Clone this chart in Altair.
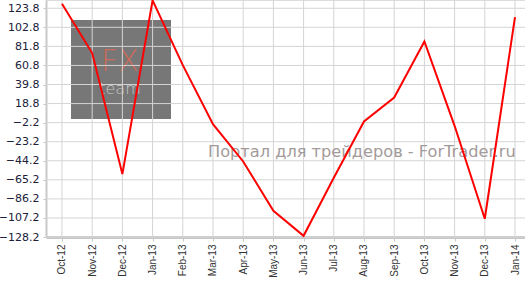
import altair as alt
import pandas as pd

months = ["Oct-12", "Nov-12", "Dec-12", "Jan-13", "Feb-13", "Mar-13", "Apr-13", "May-13",
          "Jun-13", "Jul-13", "Aug-13", "Sep-13", "Oct-13", "Nov-13", "Dec-13", "Jan-14"]
values = [128.8, 74.4, -58.9, 132.5, 61.1, -3.8, -45.0, -99.3,
          -126.9, -63.0, -0.9, 25.5, 87.2, -5.7, -108.1, 114.1]
y_ticks = [123.8, 102.8, 81.8, 60.8, 39.8, 18.8, -2.2, -23.2, -44.2, -65.2, -86.2, -107.2, -128.2]
watermark_text = "Портал для трейдеров - ForTrader.ru"

df = pd.DataFrame({"month": months, "value": values})
df_y = pd.DataFrame({"tick": y_ticks})
df_x = pd.DataFrame({"month": months})

xscale = alt.Scale(type="point", domain=months, padding=0.43, align=0.615)
yscale = alt.Scale(domain=[-128.2, 132.9], nice=False, zero=False)

x_axis = alt.Axis(title=None, labelAngle=-90, labelFont="Liberation Sans", labelFontSize=10,
                  labelColor="#333333", domainColor="#c8c8c8", domainWidth=3,
                  tickColor="#c8c8c8", tickSize=4, labelPadding=3, grid=False)
y_axis = alt.Axis(title=None, values=y_ticks, format=".1f", labelFont="DejaVu Sans",
                  labelFontSize=11, labelColor="#20203a", domainColor="#c8c8c8", domainWidth=2,
                  tickColor="#c8c8c8", tickSize=3, labelPadding=4, grid=False)

box = alt.Chart(pd.DataFrame({"a": [0]})).mark_rect(color="#777777").encode(
    x=alt.value(25), x2=alt.value(125), y=alt.value(20), y2=alt.value(119))

fx = alt.Chart(pd.DataFrame({"t": ["FX"]})).mark_text(
    font="DejaVu Sans", fontSize=30, fontWeight=200, color="#d46a58", opacity=0.9,
    align="center", baseline="alphabetic").encode(x=alt.value(74), y=alt.value(71), text="t:N")
team = alt.Chart(pd.DataFrame({"t": ["team"]})).mark_text(
    font="DejaVu Sans", fontSize=16, fontWeight=200, color="#c8c8c8", align="center",
    baseline="alphabetic").encode(x=alt.value(74), y=alt.value(94), text="t:N")

hgrid = alt.Chart(df_y).mark_rule(color="#d4d4d4", strokeWidth=1).encode(
    y=alt.Y("tick:Q", scale=yscale, axis=y_axis))
vgrid = alt.Chart(df_x).mark_rule(color="#d4d4d4", strokeWidth=1).encode(
    x=alt.X("month:N", scale=xscale, sort=months, axis=x_axis))

portal = alt.Chart(pd.DataFrame({"t": [watermark_text]})).mark_text(
    font="DejaVu Sans", fontSize=16.2, color="#a39a9a", align="left",
    baseline="alphabetic").encode(x=alt.value(162), y=alt.value(157), text="t:N")

line = alt.Chart(df).mark_line(color="#ff0000", strokeWidth=2).encode(
    x=alt.X("month:N", scale=xscale, sort=months, axis=x_axis),
    y=alt.Y("value:Q", scale=yscale, axis=y_axis))

chart = alt.layer(box, fx, team, hgrid, vgrid, portal, line).properties(
    width=479, height=237,
    autosize=alt.AutoSizeParams(type="none"),
    padding={"left": 46, "top": 0, "right": 0, "bottom": 45},
).configure_view(stroke=None).configure(background="white")

chart.save("out.html", embed_options={"renderer": "svg", "actions": False})
